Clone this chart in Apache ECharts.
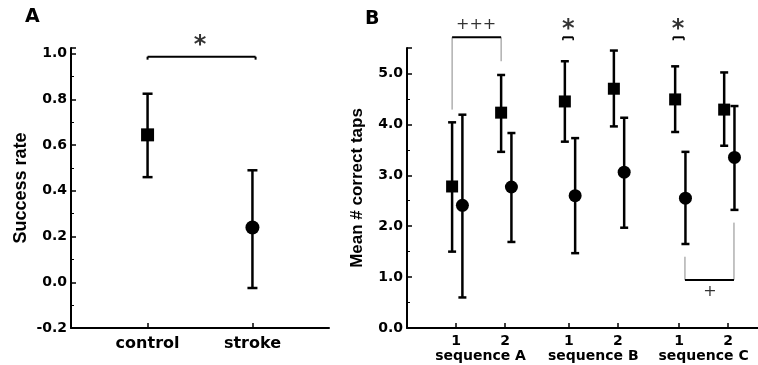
<!DOCTYPE html>
<html>
<head>
<meta charset="utf-8">
<script src="https://cdn.jsdelivr.net/npm/echarts@6/dist/echarts.min.js"></script>
<style>
  html, body { margin: 0; padding: 0; background: #fff; }
  #main { width: 758px; height: 365px; }
</style>
</head>
<body>
<div id="main"></div>
<script>
// panel A: success rate
const groupsA = ['control', 'stroke'];
const groupPosA = [1, 2];
const meanA = [0.645, 0.24];
const lowA = [0.46, -0.025];
const highA = [0.825, 0.49];

// panel B: mean # correct taps
const seqNames = ['sequence A', 'sequence B', 'sequence C'];
const seqCenters = [1.5, 3.8, 6.05];
const tickPosB = [1, 2, 3.3, 4.3, 5.55, 6.55];
const tickLabelsB = ['1', '2', '1', '2', '1', '2'];
const squareMean = [2.78, 4.23, 4.45, 4.70, 4.49, 4.29];
const squareLow = [1.50, 3.46, 3.66, 3.96, 3.85, 3.58];
const squareHigh = [4.04, 4.97, 5.24, 5.45, 5.14, 5.02];
const circleMean = [2.41, 2.77, 2.60, 3.06, 2.55, 3.35];
const circleLow = [0.60, 1.69, 1.47, 1.97, 1.65, 2.32];
const circleHigh = [4.19, 3.83, 3.73, 4.13, 3.46, 4.36];
const squareShift = -0.08;
const circleShift = 0.13;

// significance marks: [x1, x2, yLeft, yTop, yRight]
const bracketsA = [[1.0, 2.03, 0.974, 0.987, 0.974]];
const starsA = [[1.5, 1.035, '*']];
const bracketsB = [
  [0.92, 1.92, 4.29, 5.71, 5.24],
  [5.67, 6.67, 1.40, 0.945, 2.07]
];
const smallBracketsB = [
  [3.18, 3.39, 5.65, 5.71, 5.65],
  [5.43, 5.65, 5.65, 5.71, 5.65]
];
const starsB = [[3.29, 5.85, '*'], [5.53, 5.85, '*']];
const plusB = [[1.41, 5.96, '+++'], [6.18, 0.71, '+']];

const boldFont = 'DejaVu Sans';
const nameFont = 'Liberation Sans';

const chart = echarts.init(document.getElementById('main'));

function errorBar(capHalf, lw) {
  return function (params, api) {
    const x = api.value(0);
    const lo = api.coord([x, api.value(1)]);
    const hi = api.coord([x, api.value(2)]);
    const st = { stroke: '#000', lineWidth: lw };
    return {
      type: 'group',
      children: [
        { type: 'line', shape: { x1: lo[0], y1: lo[1], x2: hi[0], y2: hi[1] }, style: st },
        { type: 'line', shape: { x1: lo[0] - capHalf, y1: lo[1], x2: lo[0] + capHalf, y2: lo[1] }, style: st },
        { type: 'line', shape: { x1: hi[0] - capHalf, y1: hi[1], x2: hi[0] + capHalf, y2: hi[1] }, style: st }
      ]
    };
  };
}

function bracket(sideColor, sideWidth, topWidth) {
  return function (params, api) {
    const a = api.coord([api.value(0), api.value(2)]);
    const b = api.coord([api.value(0), api.value(3)]);
    const c = api.coord([api.value(1), api.value(3)]);
    const d = api.coord([api.value(1), api.value(4)]);
    return {
      type: 'group',
      children: [
        { type: 'line', shape: { x1: a[0], y1: a[1], x2: b[0], y2: b[1] }, style: { stroke: sideColor, lineWidth: sideWidth } },
        { type: 'line', shape: { x1: d[0], y1: d[1], x2: c[0], y2: c[1] }, style: { stroke: sideColor, lineWidth: sideWidth } },
        { type: 'line', shape: { x1: b[0], y1: b[1], x2: c[0], y2: c[1] }, style: { stroke: '#000', lineWidth: topWidth } }
      ]
    };
  };
}

function textSeries(xi, yi, rows, size, weight) {
  return {
    type: 'scatter', xAxisIndex: xi, yAxisIndex: yi, symbolSize: 0, clip: false, silent: true,
    data: rows.map(r => ({ value: [r[0], r[1]], name: r[2] })),
    label: {
      show: true, position: 'inside', formatter: '{b}', color: '#000',
      fontFamily: boldFont, fontSize: size, fontWeight: weight
    }
  };
}

const axisLine = { show: true, onZero: false, lineStyle: { color: '#000', width: 2 } };
const marker = { color: '#000', opacity: 1 };

const option = {
  animation: false,
  backgroundColor: '#fff',
  grid: [
    { left: 71, right: 429, top: 48, bottom: 37 },
    { left: 407, right: 0, top: 48, bottom: 37 }
  ],
  xAxis: [
    {
      gridIndex: 0, type: 'value', min: 0.27, max: 2.73,
      axisLine: axisLine, splitLine: { show: false },
      axisTick: { show: true, inside: true, length: 5, customValues: groupPosA, lineStyle: { color: '#000', width: 1.5 } },
      axisLabel: {
        customValues: groupPosA, margin: 8, color: '#000',
        fontFamily: boldFont, fontWeight: 'bold', fontSize: 16,
        formatter: v => groupsA[groupPosA.indexOf(v)]
      }
    },
    {
      gridIndex: 1, type: 'value', min: 0, max: 7.16,
      axisLine: axisLine, splitLine: { show: false },
      axisTick: { show: true, inside: true, length: 5, customValues: tickPosB, lineStyle: { color: '#000', width: 1.5 } },
      axisLabel: {
        customValues: tickPosB, margin: 6, color: '#000',
        fontFamily: boldFont, fontWeight: 'bold', fontSize: 14,
        formatter: v => tickLabelsB[tickPosB.indexOf(v)]
      }
    },
    {
      gridIndex: 1, type: 'value', min: 0, max: 7.16, position: 'bottom',
      axisLine: { show: false, onZero: false }, axisTick: { show: false }, splitLine: { show: false },
      axisLabel: {
        customValues: seqCenters, margin: 21, color: '#000',
        fontFamily: boldFont, fontWeight: 'bold', fontSize: 14,
        formatter: v => seqNames[seqCenters.indexOf(v)]
      }
    }
  ],
  yAxis: [
    {
      gridIndex: 0, type: 'value', min: -0.2, max: 1.025, interval: 0.2,
      name: 'Success rate', nameLocation: 'middle', nameGap: 41,
      nameTextStyle: { fontFamily: nameFont, fontWeight: 'bold', fontSize: 18, color: '#000' },
      axisLine: axisLine, splitLine: { show: false },
      axisTick: { show: true, inside: true, length: 5, lineStyle: { color: '#000', width: 1.5 } },
      minorTick: { show: true, splitNumber: 2, length: 3, lineStyle: { color: '#000', width: 1 } },
      axisLabel: {
        showMaxLabel: false, margin: 4, color: '#000',
        fontFamily: boldFont, fontWeight: 'bold', fontSize: 14,
        formatter: v => v.toFixed(1)
      }
    },
    {
      gridIndex: 1, type: 'value', min: 0, max: 5.5, interval: 1,
      name: 'Mean # correct taps', nameLocation: 'middle', nameGap: 41,
      nameTextStyle: { fontFamily: nameFont, fontWeight: 'bold', fontSize: 17, color: '#000' },
      axisLine: axisLine, splitLine: { show: false },
      axisTick: { show: true, inside: true, length: 5, lineStyle: { color: '#000', width: 1.5 } },
      minorTick: { show: true, splitNumber: 2, length: 3, lineStyle: { color: '#000', width: 1 } },
      axisLabel: {
        showMaxLabel: false, margin: 4, color: '#000',
        fontFamily: boldFont, fontWeight: 'bold', fontSize: 14,
        formatter: v => v.toFixed(1)
      }
    }
  ],
  graphic: [
    { type: 'text', left: 25, top: 8, style: { text: 'A', font: 'bold 19px "DejaVu Sans"', fill: '#000' } },
    { type: 'text', left: 365, top: 10, style: { text: 'B', font: 'bold 19px "DejaVu Sans"', fill: '#000' } }
  ],
  series: [
    // panel A
    {
      type: 'custom', xAxisIndex: 0, yAxisIndex: 0, renderItem: errorBar(5, 2.5),
      data: groupPosA.map((x, i) => [x, lowA[i], highA[i]]), z: 2
    },
    {
      type: 'scatter', xAxisIndex: 0, yAxisIndex: 0, symbol: 'rect', symbolSize: 13,
      itemStyle: marker, data: [[groupPosA[0], meanA[0]]], z: 3
    },
    {
      type: 'scatter', xAxisIndex: 0, yAxisIndex: 0, symbol: 'circle', symbolSize: 14,
      itemStyle: marker, data: [[groupPosA[1], meanA[1]]], z: 3
    },
    {
      type: 'custom', xAxisIndex: 0, yAxisIndex: 0, clip: false, renderItem: bracket('#000', 2, 2),
      data: bracketsA
    },
    textSeries(0, 0, starsA, 24, 'bold'),
    // panel B
    {
      type: 'custom', xAxisIndex: 1, yAxisIndex: 1, renderItem: errorBar(4, 2.5),
      data: tickPosB.map((x, i) => [x + squareShift, squareLow[i], squareHigh[i]]), z: 2
    },
    {
      type: 'custom', xAxisIndex: 1, yAxisIndex: 1, renderItem: errorBar(4, 2.5),
      data: tickPosB.map((x, i) => [x + circleShift, circleLow[i], circleHigh[i]]), z: 2
    },
    {
      type: 'scatter', xAxisIndex: 1, yAxisIndex: 1, symbol: 'rect', symbolSize: 12,
      itemStyle: marker, data: tickPosB.map((x, i) => [x + squareShift, squareMean[i]]), z: 3
    },
    {
      type: 'scatter', xAxisIndex: 1, yAxisIndex: 1, symbol: 'circle', symbolSize: 13,
      itemStyle: marker, data: tickPosB.map((x, i) => [x + circleShift, circleMean[i]]), z: 3
    },
    {
      type: 'custom', xAxisIndex: 1, yAxisIndex: 1, clip: false, renderItem: bracket('#888', 1, 2),
      data: bracketsB
    },
    {
      type: 'custom', xAxisIndex: 1, yAxisIndex: 1, clip: false, renderItem: bracket('#000', 1.5, 2),
      data: smallBracketsB
    },
    textSeries(1, 1, starsB, 24, 'bold'),
    textSeries(1, 1, plusB, 16, 'normal')
  ]
};

chart.setOption(option);
</script>
</body>
</html>
